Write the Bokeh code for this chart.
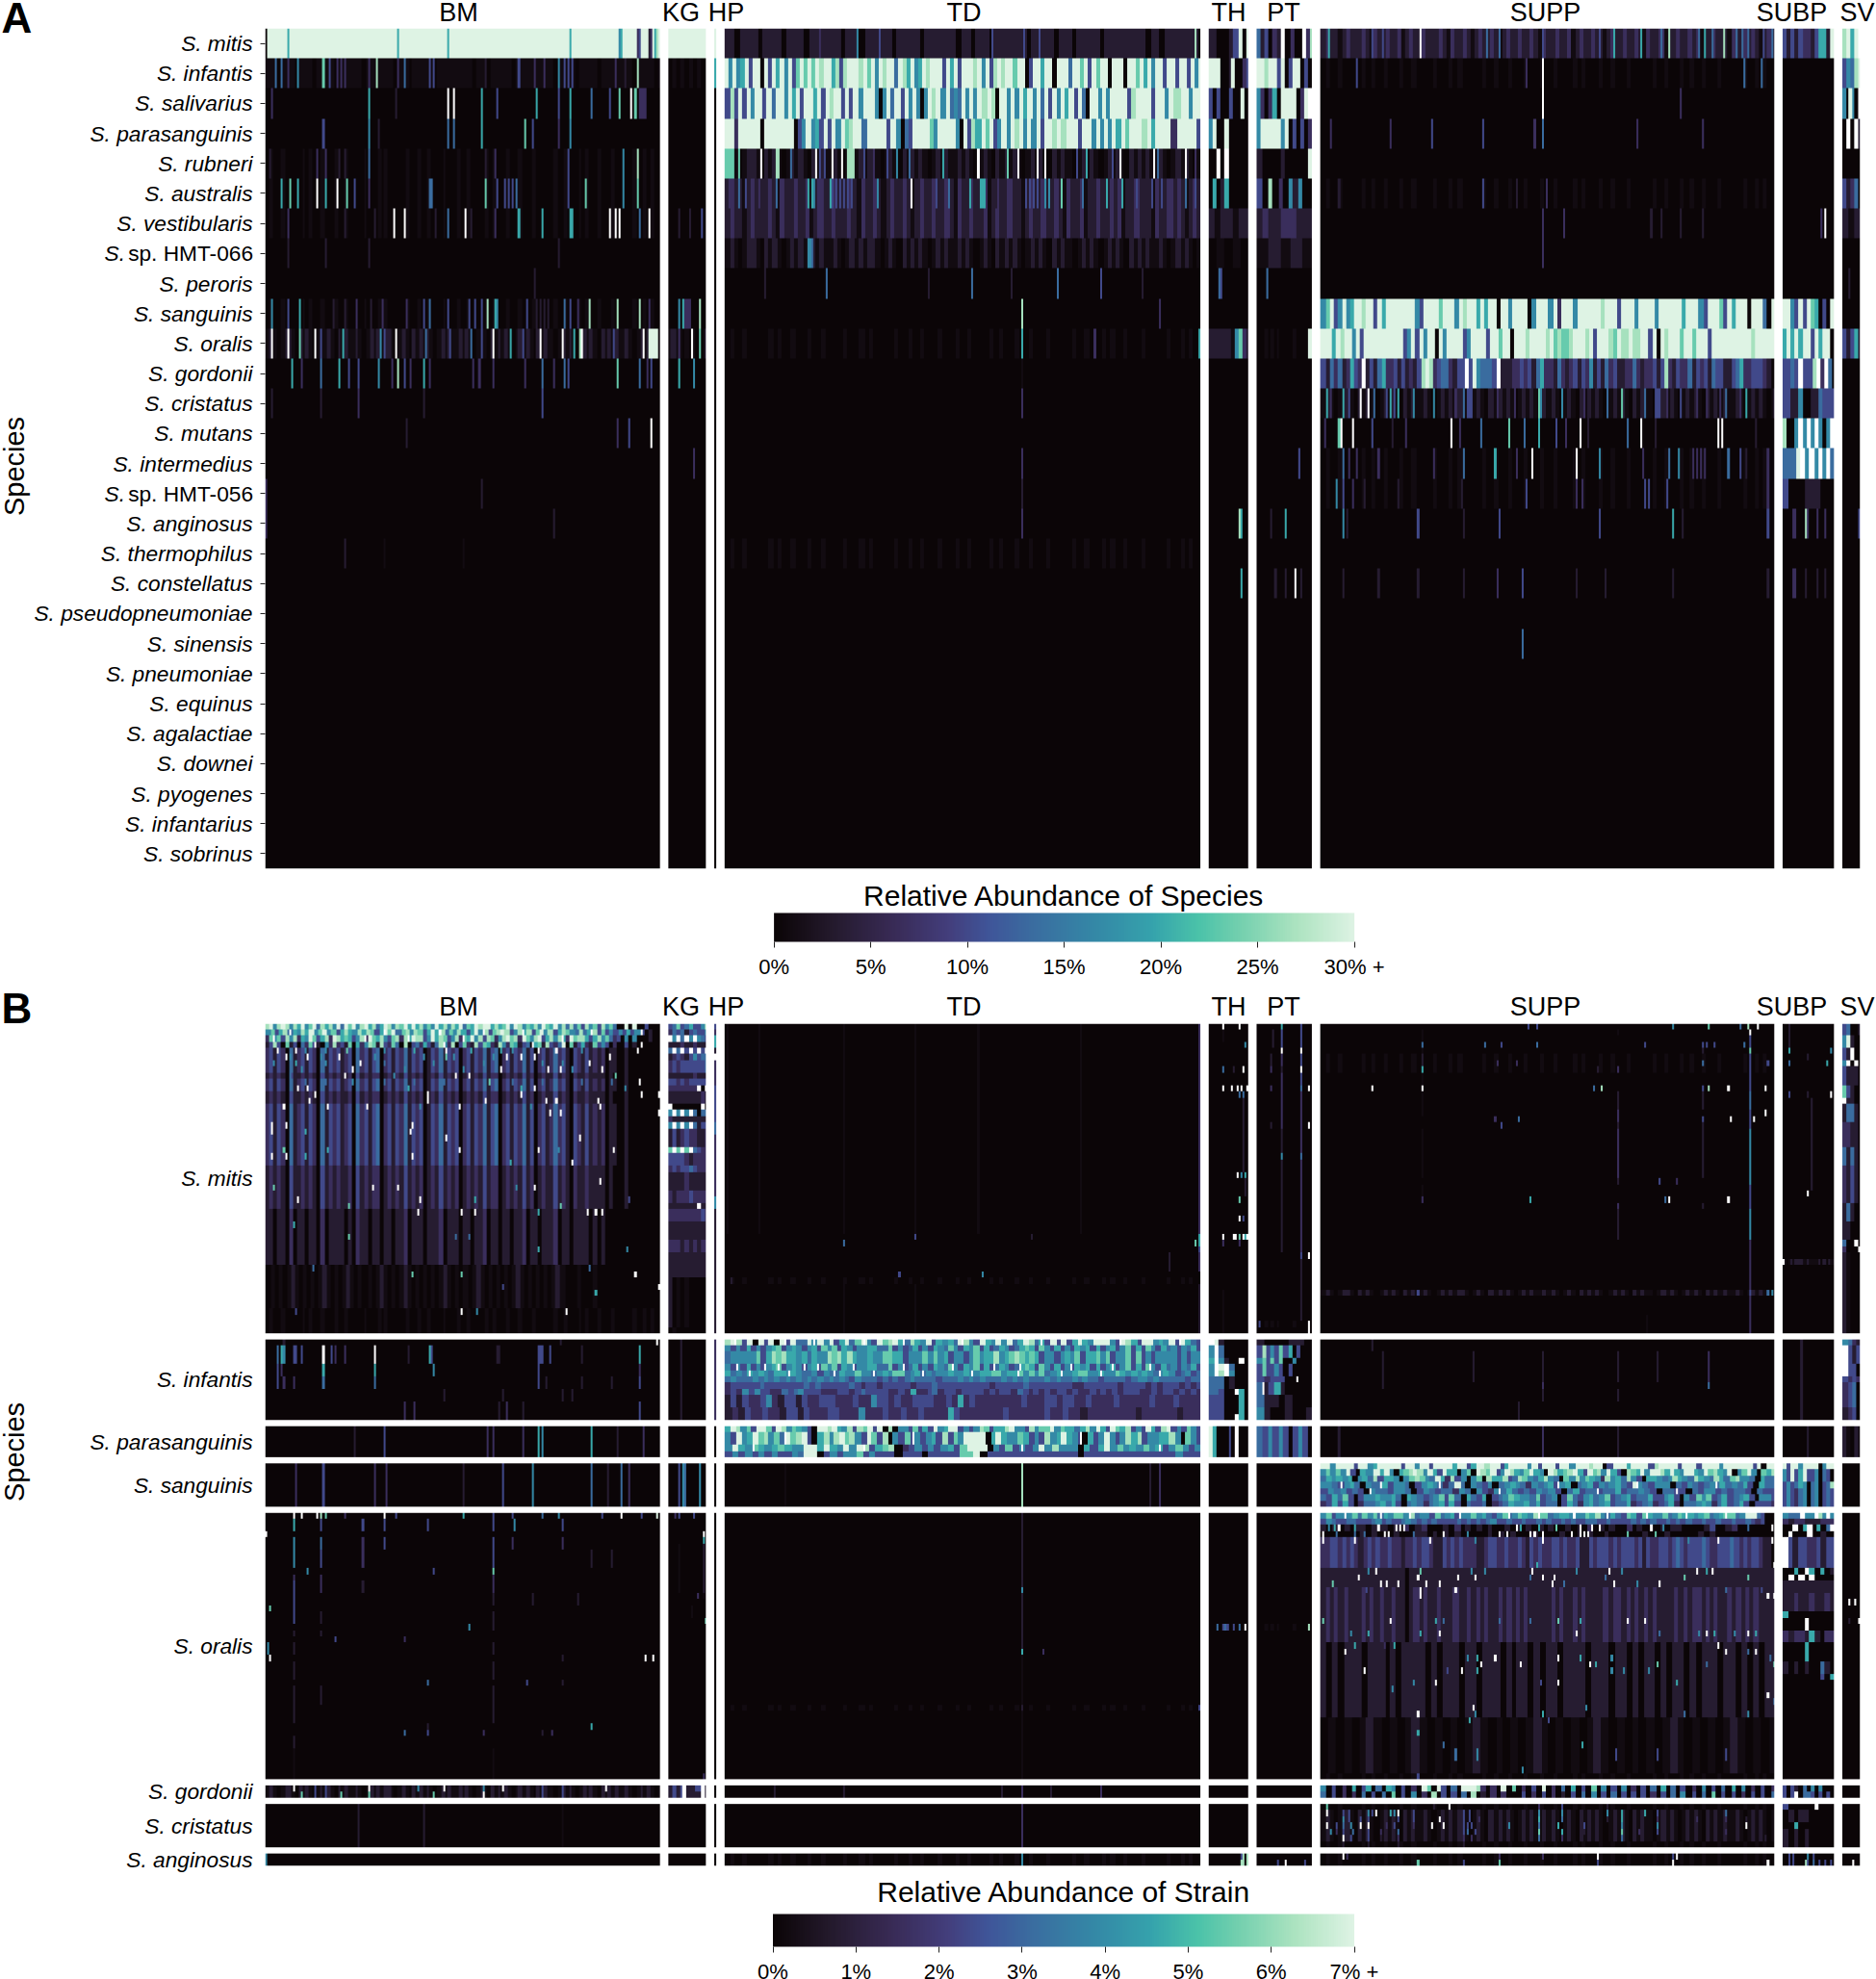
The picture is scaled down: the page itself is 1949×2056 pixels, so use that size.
import numpy as np
from bokeh.plotting import figure
from bokeh.layouts import column
from bokeh.models import LinearColorMapper, ColorBar, FixedTicker, Range1d
from bokeh.core.properties import value
from bokeh.embed import file_html
from bokeh.resources import INLINE

SITES = ["BM", "KG", "HP", "TD", "TH", "PT", "SUPP", "SUBP", "SV"]
SAMPLES = [200, 19, 1, 241, 20, 28, 230, 26, 9]
SITE_LABEL_PX = [476, 707, 754, 1001, 1276, 1333, 1605, 1861, 1929]

SPECIES_A = ["S. mitis", "S. infantis", "S. salivarius", "S. parasanguinis", "S. rubneri", "S. australis",
             "S. vestibularis", "S. sp. HMT-066", "S. peroris", "S. sanguinis", "S. oralis", "S. gordonii",
             "S. cristatus", "S. mutans", "S. intermedius", "S. sp. HMT-056", "S. anginosus", "S. thermophilus",
             "S. constellatus", "S. pseudopneumoniae", "S. sinensis", "S. pneumoniae", "S. equinus",
             "S. agalactiae", "S. downei", "S. pyogenes", "S. infantarius", "S. sobrinus"]
SPECIES_B = ["S. mitis", "S. infantis", "S. parasanguinis", "S. sanguinis", "S. oralis", "S. gordonii",
             "S. cristatus", "S. anginosus"]
ROWS_B = [50, 13, 5, 7, 43, 2, 7, 2]

# Levels: 0-9 along the colour scale, a = faint, w = white (off the scale).
# "pattern|sample:level ..." : pattern is stretched over the site, then single samples are set.
F0 = "0a00a00000a0a00a000a00a0000a000a0a00000a00a00a000a000a00a0000a0a000a00a000a00000a00a000a0a00a000a00000a00a0a00"
F1 = "a1a0a11a01a1a0a1a1a01a1aa1a0a1a1a11a0a1a01a1a1a0a1a1aa1a1a0a1a01a1a1a0a1a1a01a1aa0a1a1a0a1a1a01a1a1aa1a0a1a1a0a"
F2 = "1211a1211121a2112112a1211211121a21121a121121a121121121a2112112a1211211a121121121a2112a11211212a112111a2112121a121"

A_DATA = [
 dict(BM="9|0:0 11:6 67:6 92:6 154:6 179:5 180:6 188:2 189:3 194:1 195:2 197:6 198:8", KG="9", HP="9",
      TD="1101111011110111101111111011101111110111110111111101101110111111101111101110111110111111111011011111111|48:2 67:5 78:3 135:3 151:3 159:3 238:8 240:0",
      TH="110000133909", PT="413021w00200w28",
      SUPP=F2 + "|4:6 26:3 31:3 50:w 84:4 90:4 112:3 141:3 148:6 162:6 172:4 176:8 191:4 194:6 198:4 204:8 210:4 213:4 216:4 224:3 228:4",
      SUBP="3131322136619", SV="8969w"),
 dict(BM=F1.replace("1", "a") + "|5:4 8:4 11:2 16:5 29:7 32:3 36:2 38:2 40:2 52:2 56:8 67:2 70:4 83:3 85:3 111:1 128:3 136:2 141:2 148:5 151:3 153:3 155:3 177:2 182:1 188:8",
      KG="0a0a0a0a00", HP="6",
      TD="9595693990939695937979798996838999897959899498695698999396939998959389899799039969909994997939799099909979695993993993959",
      TH="99900190023", PT="99899390399030",
      SUPP=F0 + "|18:3 104:2 112:w 214:4 223:4", SUBP="0", SV="35489"),
 dict(BM="0|3:2 52:6 66:1 92:w 95:w 109:6 117:3 137:6 148:3 154:6 165:4 174:3 179:7 185:w 187:7 189:2 190:2 191:2 192:2",
      KG="0", HP="0",
      TD="3839395993949959693996939899393959995059493959505989594549595989809959596959493959693940995959999389999399598899599",
      TH="3030030090", PT="5202609999029w",
      SUPP="0|112:w 182:2", SUBP="0", SV="50950w"),
 dict(BM="0|29:3 52:5 57:1 92:4 95:4 109:6 131:7 135:3 148:2 154:5", KG="0", HP="0",
      TD="9929999909999999035956393959789949999939504399997599995093869793595989595939989899939959595969799989699992999993",
      TH="5900900000", PT="59999959030302",
      SUPP="0|5:2 35:2 56:3 82:3 108:2 112:4 160:2 193:2", SUBP="0", SV="0w0w1"),
 dict(BM=F0 + "|2:1 26:2 30:2 37:1 40:1 52:4 111:1 116:2 153:3 181:5 188:8", KG="0", HP="0",
      TD=F1 + "|0:7 1:7 2:7 3:7 4:7 7:7 18:w 26:8 27:8 33:4 46:w 48:3 50:3 54:w 59:w 62:8 63:8 64:8 65:8 70:3 75:2 82:3 87:5 93:4 110:6 128:w 143:7 148:w 158:w 162:w 178:3 183:6 196:3 200:w 217:w 219:4 233:w 238:2",
      TH="00w0w00000", PT="100001000009",
      SUPP="0", SUBP="0", SV="0"),
 dict(BM=F0 + "|8:6 12:7 16:6 26:w 30:6 36:w 41:7 45:3 52:2 83:4 84:4 111:7 117:3 121:3 123:3 125:3 127:4 153:3 162:7 181:5 188:7",
      KG="0", HP="0",
      TD=F2 + "|2:2 7:4 10:3 17:2 26:4 42:6 44:6 45:5 53:6 54:3 56:3 58:3 60:3 62:3 64:3 77:5 94:w 107:3 113:4 124:6 129:6 130:6 131:6 137:1 152:3 154:3 156:3 158:3 162:5 164:5 170:7 181:4 193:6 201:6 208:3 216:3 221:3 233:4 238:3",
      TH="0601600000", PT="30802051500",
      SUPP=F0 + "|9:1 82:3 99:1 114:2", SUBP="0", SV="31240"),
 dict(BM=F0 + "|11:2 40:1 55:1 65:w 70:w 86:1 92:4 101:w 104:1 116:2 128:6 140:6 154:6 155:6 174:w 177:w 179:w 189:4 194:w",
      KG="0|5:1 10:1 16:3", HP="0",
      TD=F2,
      TH="1a11a11", PT="1211222111", SUPP="0|112:2 123:2 167:1 172:1 182:1 193:1", SUBP="0|19:2 21:w", SV="1a1"),
 dict(BM="0|11:1 30:1 52:1 148:1", KG="0", HP="0",
      TD=F1 + "|42:5 43:5 44:4", TH="0a0a0", PT="a1a1a", SUPP="0|112:2", SUBP="0", SV="0"),
 dict(BM="0|136:1", KG="0", HP="0", TD="0|20:1 51:4 103:1 125:4 145:1 168:4 190:3 211:1", TH="0|5:4 6:3", PT="0|5:4",
      SUPP="0", SUBP="0", SV="0|3:1"),
 dict(BM=F0 + "|3:5 11:3 17:6 34:1 40:1 46:2 53:1 59:2 71:2 80:3 83:4 92:3 103:3 106:3 109:3 112:8 116:6 117:5 132:3 137:1 139:1 141:1 143:1 151:4 154:3 158:2 164:8 178:8 189:8 194:2",
      KG="0|5:5 7:6 8:2 9:2 10:2 15:8", HP="0", TD="0|150:8 220:2", TH="0", PT="0",
      SUPP="5793595699899396999999953999979995989969699099599990599959299959999998999399959999599999969995399973969990999409",
      SUBP="9953939760309", SV="0"),
 dict(BM=F1 + "|3:w 11:w 17:7 25:w 28:3 39:6 58:5 60:3 66:w 81:4 93:3 104:4 109:3 115:w 124:6 130:3 139:w 150:w 156:6 159:8 160:w 176:3 191:w 194:9 195:9 196:9 197:9 198:9",
      KG=F1 + "|5:2 11:w 15:7", HP="0", TD=F0 + "|150:6 187:2 240:6", TH="111111a5721", PT=F0 + "|26:9 27:9",
      SUPP="9996989959399999999993593959909599993599993997990999899998978778999893999879889889939098999799799939999999999899999",
      SUBP="6969699396990", SV="31361"),
 dict(BM="0|13:6 18:2 28:4 37:6 42:3 47:3 57:5 64:2 67:8 70:3 73:2 80:6 83:2 105:2 108:2 115:2 131:2 140:4 146:2 151:4 153:3 178:7 189:4 193:2 195:3",
      KG="0|5:6 12:5", HP="0", TD="0|150:a", TH="0", PT="0",
      SUPP="3142412632w1314622313121389823442133w3954443w111223231462214212313251314231122421223138213224132314331134622333210",
      SUBP="3343w3338w2w40", SV="0"),
 dict(BM="0|3:1 28:1 47:2 80:1 140:3", KG="0", HP="0", TD="0|150:2", TH="0", PT="0",
      SUPP=F1 + "|3:6 5:2 11:6 14:3 20:w 24:w 27:4 33:3 35:6 37:3 39:6 47:5 57:5 68:2 72:4 74:3 75:3 76:3 89:2 98:2 110:7 111:5 122:5 133:2 145:4 152:7 164:4 169:3 170:3 171:3 175:2 182:3 190:2 195:2 202:2 205:4 212:2 215:6 229:1",
      SUBP="3311500114333", SV="0"),
 dict(BM="0|71:1 178:2 184:3 195:w", KG="0", HP="0", TD="0", TH="0", PT="0",
      SUPP="0|2:2 9:7 10:w 16:w 26:3 36:1 43:2 66:w 70:2 81:4 95:7 103:4 110:6 119:3 124:2 131:w 135:1 155:4 162:w 169:1 201:w 203:w 220:1",
      SUBP="8005w5w5w505w", SV="0"),
 dict(BM="0", KG="0|12:2", HP="0", TD="0|150:2", TH="0", PT="0|21:3",
      SUPP=F0 + "|11:4 14:2 18:2 29:2 57:2 72:4 88:6 99:2 107:w 129:w 141:5 163:2 176:4 181:5 188:2 190:2 192:2 194:2 206:4 212:3 215:1 226:2",
      SUBP="4449w5w5w5w4", SV="0"),
 dict(BM="0|0:2 109:1", KG="0", HP="0", TD="0|150:1", TH="0", PT="0",
      SUPP=F0 + "|8:5 11:3 16:2 22:1 39:1 71:1 104:3 129:2 132:2 164:3 166:3 175:3 226:2", SUBP="3000111000", SV="0"),
 dict(BM="0|0:2 146:1", KG="0", HP="0", TD="0|150:2", TH="0|15:8 16:6", PT="0|14:6 7:1",
      SUPP="0|11:5 13:1 49:3 72:1 90:3 141:3 178:6 183:1 226:3", SUBP="0|5:2 6:2 11:8 12:2 17:2 21:2", SV="0|8:3"),
 dict(BM="0|40:1 60:a 100:a", KG="0", HP="0", TD=F0, TH="0", PT="0", SUPP="0", SUBP="0", SV="0"),
 dict(BM="0", KG="0", HP="0", TD="0", TH="0|16:6", PT="0|9:1 14:1 19:w 22:1",
      SUPP="0|11:1 29:1 49:1 72:1 89:2 102:3 129:1 144:1 178:1 226:1 231:1", SUBP="0|5:2 6:2 11:1 17:1 21:1", SV="0"),
 dict(BM="0", KG="0", HP="0", TD="0", TH="0", PT="0", SUPP="0", SUBP="0", SV="0"),
 dict(BM="0", KG="0", HP="0", TD="0", TH="0", PT="0", SUPP="0|102:4", SUBP="0", SV="0"),
]
mA = dict(BM="0", KG="0", HP="0", TD="0", TH="0", PT="0", SUPP="0", SUBP="0", SV="0")

# ---- Panel B: each block gives, per site, [(rows, pattern), ...] or one pattern for all rows ----
MU = "2313204123132041323123042313402313241323013241323023132413402313241302312423103213121201100100000000"
MM = "1212103112121031212112031212201212131212012131212012121312201212131201211312102112111101000100000000"
ML = "1101102011011020111101021101101101120111011120111011011201101101120110111201101111010100000000000000"
MB = "0a0a0a1a0a0a0a1a0a0a1a0a0a0a1a0a0a1a0a0a0a0a1a0a0a0a1a0a0a0a0a1a0a0a0a0a1a000a000a0000000000000000"
B_MITIS = dict(
 BM=[
 (1,"8958985869579486859497958968469858796968575968586947698996867959857685976958484738573857400909003000"),
 (1,"5736846586957957368658687369794785873696847586369583789835868379583687548468373535363530100|12:w 60:w 88:w 110:w 130:w 165:w 190:w"),
 (1,"2757385826597368298676358297685378286988359687358276958387258978297589368586297886368574230505000100|4:w 50:w 72:w 100:w 150:w"),
 (1,"1383071304273105282317062587183274080342631485280372183762185276134067183249071362173530200301000000|25:w 90:w 135:w 190:w"),
 (1,MU + "|6:w 15:w 41:7 91:w 104:6 119:6 138:w 147:w 188:w 20:5 30:5 60:5 75:6 125:5 160:5"),
 (1,MU + "|10:w 21:w 37:w 91:7 122:w 129:w 136:w 174:w 12:5 28:5 55:5 80:5 95:5 115:5"),
 (1,MU + "|4:5 15:6 48:w 164:w 30:5 60:4 85:5 110:5 140:5 150:5"),
 (1,MU + "|44:w 119:w 143:w 149:w 170:w 18:5 70:5 100:5 155:5"),
 (1,MM + "|40:w 96:w 103:w 177:7 12:4 65:5"),
 (1,MU + "|44:5 113:7 189:w 20:4 30:4 60:4 75:4 90:4 125:4 140:4 160:4 175:4"),
 (1,MU + "|16:w 21:w 72:6 129:6 136:w 182:5"),
 (1,MM + "|25:w 82:w 129:w 190:w 199:w"),
 (1,MM + "|22:w 82:w 111:w 142:w 147:w 168:w"),
 (1,MU + "|9:w 31:w 51:w 78:5 98:w 134:5 169:w"),
 (1,MU + "|144:w 149:w 199:w"),
 (1,MU),
 (1,MU + "|3:w 10:w 74:w"),
 (1,MU + "|3:w 20:6 73:w"),
 (1,MU + "|91:w 159:w"),
 (1,MU),
 (1,MU + "|9:7 31:6 98:w 138:w 148:5 176:w"),
 (1,MU + "|3:w 10:w 20:6 74:w"),
 (1,MU + "|155:w 124:6"),
 (2,MM),
 (1,MM + "|169:w"),
 (1,MM + "|4:7 54:w 67:w 127:5 136:w"),
 (1,MM),
 (1,MM + "|16:w 78:w 106:6 184:3"),
 (1,MM + "|42:7 149:7"),
 (1,ML + "|77:w 99:w 106:w 138:6 163:w 167:w 170:w"),
 (1,ML),
 (1,ML + "|14:6"),
 (1,ML),
 (1,ML + "|42:7 96:4 103:4"),
 (1,ML),
 (1,ML + "|138:6 183:5"),
 (2,ML),
 (1,MB + "|24:4 164:4"),
 (1,MB + "|74:7 99:7 187:w"),
 (1,MB),
 (1,MB + "|120:3 199:w"),
 (1,MB + "|167:6"),
 (2,MB),
 (1,F0 + "|99:w 107:5 152:w 15:3"),
 (3,F0),
 ],
 KG=[(1,"3473463358"),(1,"2434134335"),(1,"w5w4w5w543"),(1,"1112112111"),(1,"4w4w3w3w3w"),(1,"1232135344"),(2,"2323333334"),(1,"1111112111"),
     (1,"3323233333"),(1,"2222222w0w"),(2,"1111111121"),(1,"w0000000w0"),(1,"5w5w5w4044"),(1,"2111111111"),(1,"5w5w5w4133"),(3,"1312322112"),
     (1,"7w7w7w4322"),(2,"3333212222"),(1,"2323343222"),(3,"1111211111"),(2,"2122232222"),(1,"1111111w11"),(2,"2222222232"),(3,"1111111111"),
     (2,"2221212122"),(4,"1111111111"),(8,"10a0a00000"),(5,"0a00000000")],
 HP=[(1,"3"),(1,"2"),(2,"6"),(1,"1"),(1,"w"),(4,"2"),(6,"3"),(2,"4"),(10,"2"),(2,"5"),(21,"1")],
 TD=[(34,"0|1:a 17:a 60:a 96:a 128:a 180:a 240:2"),(1,"0|96:3 155:1 240:6"),(1,"0|60:4 238:7 240:6"),(1,"0|240:3"),(3,"0|225:1 240:2"),
     (1,"0|88:3 130:5"),(1,F0 + "|3:1"),(8,"0|60:a 96:a 240:1")],
 TH=[(1,"0|7:w 15:w"),(2,"0|7:a"),(1,"0|18:5"),(3,"0"),(1,"0|7:4 12:1 17:w"),(2,"0"),(1,"0|7:w 11:w 14:w 16:w 19:w"),(1,"0|15:4 17:4"),
     (12,"0|17:1"),(1,"0|14:w 16:5 18:6"),(3,"0|18:1"),(1,"0|15:7"),(2,"0"),(1,"0|15:w 17:3"),(2,"0"),(1,"0|7:w 12:w 13:w 15:7 17:w 18:6 19:w"),
     (1,"0|7:2 15:2"),(7,"0"),(8,"0|7:a")],
 PT=[(1,"0|12:6 22:3"),(3,"0|12:3 22:3 8:1"),(1,"0|12:w 22:w"),(2,"0|7:1 12:2 22:3"),(1,"0|22:w 7:2 12:1"),(2,"0|12:2 22:3"),(1,"0|7:2 22:4 12:2 26:w"),(5,"0|12:2 22:2"),
     (1,"0|7:1 12:2 22:2 26:w"),(4,"0|12:1 22:2"),(1,"0|12:5 22:4"),(15,"0|12:1 22:2"),(1,"0|22:3 26:w"),(10,"0|22:1"),(1,F0 + "|1:3 26:w"),(1,"0|26:w"),(1,"0")],
 SUPP=[(1,"0|105:3 109:3 178:5 196:7 212:4 216:8 221:w"),(1,"0|51:a 217:w 150:a"),(1,"0|51:a 217:3"),(1,"0|51:4 83:4 91:3 109:4 164:3 193:3 195:3 199:3 214:4 217:3"),
       (1,"0|51:a 217:7 193:1"),(1,F0 + "|51:1 217:3"),(1,F0 + "|89:2 99:2 193:4 51:1 217:3 226:3"),(1,F0 + "|51:6 217:3 140:1 150:2"),(2,"0|51:a 217:3"),
       (1,"0|26:w 51:w 138:4 142:8 193:3 196:8 206:w 217:3 225:w"),(3,"0|51:a 150:1 193:1 217:4"),(1,"0|51:a 150:2 217:3 225:w"),(1,"0|88:2 100:4 150:2 193:3 207:w 217:3 219:w"),
       (1,"0|91:3 150:1 193:1 217:3"),(8,"0|51:a 150:2 193:1 217:5"),(1,"0|150:1 217:5 171:3 180:2"),(2,"0|51:a 217:3"),(1,"0|51:2 106:6 174:4 176:w 206:w 217:3"),
       (1,"0|150:2 193:1 217:3"),(5,"0|217:5 150:1"),(8,"0|217:2"),(1,F1 + "|49:3 217:3 226:4 228:5 230:5"),(3,"0|217:2"),(4,"0|217:2 165:a"),(1,"0|217:1 225:6")],
 SUBP=[(4,"0|3:1"),(1,"0|3:6 24:5"),(1,"0|12:1"),(1,"0|3:4 22:6"),(4,"0"),(1,"0|3:3 12:1 24:w"),(15,"0|14:1"),(1,"0|12:w"),(10,"0"),(1,F1 + "|0:w"),(11,"0")],
 SV=[(2,"34001"),(2,"59100"),(2,"31w00"),(1,"5w0w0"),(3,"31110"),(2,"73100"),(1,"w1100"),(3,"14410"),(4,"22110"),(3,"41410"),(6,"21310"),(3,"14100"),(3,"11000"),(1,"400w0"),(1,"2000w"),(15,"1a000")],
)
IT = "5353635356735653563757365355664473534635365475365736346534676375363536563635635736375364535463"
IM = "2325353322434533322233234333322326223423323333232332432323233232232323233322323323232"
B_INFANTIS = dict(
 BM=[(1,"0|9:1 149:1 198:w"),(3,"0|6:4 8:6 9:5 14:3 15:3 18:3 29:w 33:3 35:2 40:2 55:w 72:1 83:6 84:3 117:1 118:1 138:3 139:3 140:3 144:3 160:1 189:6"),
     (2,"0|6:3 8:2 29:6 55:6 85:5 138:3 189:2"),(2,"0|6:3 9:2 14:2 29:4 55:4 138:3 142:1 160:1 175:1 189:3"),(2,"0|90:1 120:1 150:1 155:1"),
     (3,"0|70:2 75:2 118:1 122:2 130:1 189:3"),],
 KG="0|6:1", HP="2",
 TD=[(1,"8983909390939449595936947953978964865936564985396595946984639393696599953986399565939643|5:w 30:w 45:w 70:w 90:w 120:w 160:w 200:w 230:w"),
     (1,IT),
     (2,"4555557368786656465587868655655776635557575635535756685678767635535657366757355737353555535355"),
     (1,IT + "|6:w 20:w 27:w 40:w 47:w 65:w 90:w 115:w 136:w 149:w 175:w 196:w 215:w"),
     (1,"6454656546656544535446557554565774564545565565566775667575745655677556557656565456534534|12:w 32:w 55:w 75:w 100:w 125:w 148:w 170:w 190:w 220:w"),
     (1,"4544454545454545454545435444343434544443444545454445454544454544545443444434554544444344"),
     (1,"2333334333333343433333432332333332333433333333323333343333333322333333233332323332323"),
     (1,IM),
     (2,"1313223521331322333222322533232233332232623222222223222332332232222322222322232222"),
     (2,"1213223221331322233222522232232232222632222222322222232232212222222212222221222"),
     (1,"1212223211221222232222322242221222262222222222222122221222122121121111"),],
 TH=[(1,"w9100000"),(2,"5w400000"),(1,"6w5100w0"),(1,"5w9w4000"),(1,"5w8w5000"),(2,"44401000"),(1,"44300w60"),(3,"33300060"),(1,"33300w60")],
 PT=[(1,"1000110"),(2,"3835373603000"),(1,"5737370050000"),(2,"3733530300000"),(1,"32330000|20:w"),(2,"4136100000|3:w"),(2,"41101000"),(2,"51001001"),(2,"31000100|2:w")],
 SUPP=[(2,"0|26:1"),(5,"0|31:1 77:1 112:1 150:1 170:1 196:2"),(1,"0|31:1 112:2 196:4"),(2,"0|112:1 150:1"),(3,"0|100:1")],
 SUBP="0|9:1", SV=[(1,"5421"),(3,"w313"),(2,"w330"),(1,"3232"),(4,"2340"),(2,"1230")],
)
B_PARAS = dict(
 BM="0|45:1 60:3 115:2 112:2 130:2 138:6 140:5 165:6 178:1 191:2 215:1",
 KG="0", HP="0",
 TD=[(1,"6985739973985765309989658387939080553736395699353587366895538577957664685963976835396389353753"),
     (2,"5395697857497893068589785397380537353563837599990696557635385696530635953586835566850753|30:w 95:w 180:w"),
     (1,"5965765676559969659598367802353535637999053735359585550636957565756357535|14:w 70:w 150:w 220:w"),
     (1,"3535353533549903535573533303330333337790333333333333330333333333333335333")],
 TH="9600030w000", PT="43535303530",
 SUPP="0|9:1 112:2 150:1", SUBP="0|12:1", SV="1a01a",
)
B_SANG = dict(
 BM="0|15:2 29:3 55:2 61:2 100:1 120:3 135:5 165:4 173:1 180:4 184:2 207:1 222:4",
 KG="0|5:3 7:5 8:4 15:5", HP="0",
 TD="0|30:a 150:8 220:2 215:1", TH="0", PT="0",
 SUPP=[(1,"9959999399569999939959939999699369989936999959399939959998990399969999389999399939999599999939099"),
       (1,"5757593065596950678985963966057098793598657965098678963978596308769599869659965978659057950768"),
       (1,"4656560564836650578754962835057086683487546854075857652856485306654586548654864785540644"),
       (1,"5543564054463554035654249405435045654254563560456354564395435550435434546454630644|10:w 30:w 60:w 120:w 160:w 200:w"),
       (1,"3545343054435540354344254053254643435453046344344634454304433043553434430433|25:w 90:w 140:w 180:w"),
       (1,"4364730355655640654345737406436034576554734503743564573456344633563053757346345630553"),
       (1,"2363630244564630454245636304334023465564634403642564563446234523462044565246346303332")],
 SUBP=[(1,"9399599990599"),(2,"5393693350430"),(1,"3534650450348"),(3,"3532450450343")], SV="0",
)
OU = "2233232321232322322122323321132323222112332232232132322332322311323332323332313223323432333432233343232332110"
OM = "1212121112121211211012121121112112121211212121211111212112121111212212121212111121212212121121212121111"
OL = "1010111011101011110101110110111010110101101111011101101011010110101110110101011"
OB = "0a0a0a1a0a0a1a0a0a0a1a0a0a0a1a0a0a0a1a0a0a0a0a1a0a0a0a1a0a0a"
B_ORALIS = dict(
 BM=[(1,"0|14:w 18:w 26:w 28:8 30:7 40:2 60:w 66:3 100:6 115:3 125:3 140:4 148:5 170:3 180:w 190:3 198:9"),
     (2,"0|14:6 28:3 49:3 60:3 82:3 115:3 126:5 150:3"),(1,"0|0:w"),(2,"0|14:5 28:4 49:2 60:3 115:3 125:2 150:2"),
     (3,"0|14:5 28:3 49:2 115:3 165:1 175:1"),(1,"0|21:5 115:7 85:3"),(1,"0|14:2 28:2 115:2"),(2,"0|14:3 28:2 49:1 115:2"),
     (2,"0|14:3 115:1 135:1 158:1"),(1,"0|2:7 14:3"),(2,"0|14:3 28:1 115:1"),(1,"0|103:5 115:1"),(1,"0|14:1 28:1"),(1,"0|35:3 70:2"),
     (2,"0|1:5 14:1 115:1"),(1,"0|2:w 150:1 192:w 196:w"),(3,"0|14:1 115:1"),(1,"0|82:4 132:3 150:1"),(3,"0|14:1 28:1 115:1"),(3,"0|14:1 115:1"),
     (1,"0|165:6 82:1"),(1,"0|70:4 82:3 110:2 140:1 145:2"),(2,"0|14:1"),(7,"0|14:a 115:a")],
 KG=[(1,"0|3:2 5:3 12:3"),(2,"0"),(1,"0|17:w"),(1,"0|17:6"),(8,"0|5:a 17:1"),(1,"0|14:2 17:a"),(1,"0"),(2,"0|11:a"),(1,"0|18:7"),(24,"0"),(1,"0|17:2")],
 HP="0",
 TD=[(12,"0|150:1"),(1,"0|150:5"),(9,"0|150:1"),(1,"0|150:6 161:2"),(8,"0|150:a"),(1,F0 + "|150:1 240:3"),(11,"0|150:a")],
 TH=[(18,"0"),(1,"0|4:4 7:3 8:4 9:3 12:3 15:4 18:w"),(24,"0")], PT=[(18,"0"),(1,F0 + "|26:8"),(24,"0")],
 SUPP=[
 (1,"5735557475746577584553745635575643574576587745665557685464376376557457665674567745994300|12:w 30:w 45:w 70:w 95:w 110:w 128:w 145:w 165:w 185:w 205:w 216:9 219:9 220:9"),
 (1,"3543344333453433454343433334343434533433433434334343344334333343434334343433433433433432300"),
 (1,"1010101101110102012000102010101001010101010010102010100201000101100001300120000000|4:5 7:6 9:w 17:6 29:w 38:w 40:w 42:w 99:w 101:6 110:6 119:7 131:w 137:w 141:w 167:w 173:5 216:4 228:w"),
 (1,"0000000101000100011010101000001010100010000100101001000000100010000010100000000000|1:w 8:4 17:4 22:4 32:w 34:w 47:4 62:w 74:5 90:w 94:w 106:w 108:w 112:w 127:w 131:w 133:w 135:w 155:7 169:7"),
 (1,OU + "|1:w 17:w 55:w 78:5 112:w 186:5 201:w 228:w"),
 (3,OU),
 (1,OU + "|109:6 229:w"),
 (1,OM.replace("2","1") + "|24:5 28:w 50:7 76:5 83:5 107:w 129:5 146:w 152:5 190:w 195:6 198:w"),
 (1,OM.replace("2","1") + "|19:w 49:w 69:w 78:w 106:4 112:w 118:w 144:4 184:7 216:7"),
 (1,OM.replace("2","1") + "|6:7 30:w 33:w 39:w 53:w 60:w 117:w 123:4 148:w 160:5 171:w"),
 (1,OM + "|23:3 50:w 68:w 205:4 223:3"),
 (1,OM + "|50:w 226:w 229:w 231:w"),
 (3,OM),
 (1,OM + "|1:7 35:w 58:6 62:4 90:4 106:4 120:7 131:6 155:w 164:w"),
 (1,OM),
 (1,OM + "|15:5 24:6 50:6 60:w 129:w 171:4 191:5 195:w 199:6 209:5 216:w 220:6"),
 (1,OM),
 (1,OL + "|17:6 37:6 32:2 201:w"),
 (1,OL + "|12:w 205:w 220:w 216:4"),
 (1,OL + "|74:5 79:6 88:w 120:w 131:6 147:5 227:4"),
 (1,OL + "|81:w 101:w 136:w 139:6 170:7 195:4 229:7"),
 (1,OL + "|22:w 64:3 71:w 79:6 147:5 153:5 166:5"),
 (1,OL),
 (1,OL + "|47:5 58:w 120:w 180:6 111:3"),
 (1,OL + "|36:5"),
 (1,OL + "|226:w"),
 (1,OL + "|229:4"),
 (1,OL + "|77:w 134:5"),
 (1,OL + "|49:w 78:5 112:6 184:4 216:5"),
 (1,OB + "|75:6 115:3"),
 (1,OB),
 (1,OB + "|49:6"),
 (1,OB),
 (1,OB + "|62:4 132:6"),
 (2,OB + "|68:4 79:5 149:3 170:3 205:3"),
 (1,OB),
 (1,OB + "|102:5"),
 (1,F0 + "|49:3"),
 (1,F0),
 ],
 SUBP=[(1,"5444w55w85w5"),(1,"2122111222"),(1,"00w06w0604w"),(1,"0w000w00100"),(5,"w3133223133"),(1,"0060w60601"),(1,"0w0w0w0000"),(2,"1111111111"),
       (3,"1121121121"),(1,"6000000000"),(1,"0000w00000"),(1,"0000w00000"),(2,"2122161022"),(3,"0000600000"),(2,"1010100410"),(1,"0000000306"),(16,"0")],
 SV=[(14,"0"),(1,"0|3:w 6:w"),(2,"0"),(1,"0|3:1 8:w"),(25,"0")],
)
B_GORD = dict(
 BM=[(1,F1 + "|14:w 25:3 30:3 52:w 77:5 90:w 110:5 120:w 140:3 150:3 172:w"),(1,F1 + "|18:7 38:7 52:7 85:7 110:w 25:3 30:3 140:3 150:3")],
 KG=[(1,"1313w1133w1"),(1,"1313w1111w1")], HP="0",
 TD="0|25:1 60:1 140:1 150:2 165:1 190:2", TH="0", PT="0",
 SUPP=[(1,"5030206036040650302097093040999820209070203090204060307050305020304060403020503040605020302"),
       (1,"4030202040304070305020803030408010202000302030201030405030403030302030405030407030302030304"),],
 SUBP=[(1,"3031040505000"),(1,"303w044303030")], SV="0",
)
B_CRIST = dict(
 BM="0|47:1 80:1 150:a", KG="0", HP="0", TD="0|150:2", TH="0", PT="0",
 SUPP=[(1,F0 + "|3:7 65:w 57:1 110:2 122:3 145:1"),
       (1,F1 + "|3:w 11:3 14:3 24:5 26:3 28:w 35:6 37:5 39:w 47:3 72:3 75:3 110:5 122:5 145:5 152:6 164:6 170:3 205:4"),
       (1,F1 + "|11:5 14:3 20:3 24:3 39:3 47:3 60:w 72:3 75:3 80:2 110:6 122:4 145:1 152:6 170:2 190:2 205:2 215:1"),
       (1,F1 + "|3:w 8:3 11:4 15:5 20:w 24:w 33:2 37:3 47:2 56:w 62:w 72:3 74:3 76:3 95:5 110:4 120:6 133:3 152:5 170:5 215:w"),
       (1,F1 + "|5:5 8:2 11:3 16:4 24:3 30:2 39:4 47:1 72:3 74:4 78:3 110:7 122:6 133:1 152:7 161:2 170:3 205:2"),
       (1,F1 + "|11:w 15:3 24:3 30:1 39:2 72:2 76:2 110:4 122:2 152:4 205:1 225:1"),
       (1,F0 + "|11:1 24:1 39:1 72:1")],
 SUBP=[(1,"3000000w0000"),(2,"0101100000"),(1,"0060000000"),(3,"1010100000")], SV="0",
)
B_ANG = dict(
 BM="0|0:5", KG="0", HP="0", TD=F0 + "|150:5", TH=[(1,"0|16:3 17:8 19:8"),(1,"0|16:8 17:8 19:8")], PT=[(1,"0"),(1,"0|10:3 14:w 24:3")],
 SUPP=[(1,F0 + "|11:w 13:2 112:2 180:w 178:3 140:w 90:2"),(1,F0 + "|49:7 72:3 90:7 140:3 178:w 226:w")],
 SUBP=[(1,"0|3:3 5:3 12:5 15:3"),(1,"0|3:3 5:3 11:8 12:3 15:4 18:3 21:3 24:3")], SV=[(1,"0"),(1,"0|5:w")],
)
B_DATA = [B_MITIS, B_INFANTIS, B_PARAS, B_SANG, B_ORALIS, B_GORD, B_CRIST, B_ANG]

TICKS_A = [0, 5, 10, 15, 20, 25, 30]
TICK_LABELS_A = ["0%", "5%", "10%", "15%", "20%", "25%", "30% +"]
TICKS_B = [0, 1, 2, 3, 4, 5, 6, 7]
TICK_LABELS_B = ["0%", "1%", "2%", "3%", "4%", "5%", "6%", "7% +"]

ANCH_POS = [0, .1, .2, .3, .37, .45, .55, .65, .73, .8, .9, 1]
ANCH_COL = ["#0b0507", "#241a2d", "#382a54", "#433e7c", "#3f5599", "#3a6ea0", "#3487a6", "#35a2ac", "#4ac2a9", "#72cfae", "#ace3c0", "#def3e4"]

def palette():
    rgb = np.array([[int(c[i:i + 2], 16) for i in (1, 3, 5)] for c in ANCH_COL], float)
    t = np.linspace(0, 1, 256)
    return ["#%02x%02x%02x" % tuple(int(round(np.interp(v, ANCH_POS, rgb[:, k]))) for k in range(3)) for v in t]
PAL = palette()

def lev(ch, top):
    if ch == "w":
        return top * 2.0
    if ch == "a":
        return top * 0.03
    return int(ch) / 9 * top

def expand(spec, n, top):
    base, _, st = spec.partition("|")
    idx = (np.arange(n) * len(base) / n).astype(int)
    arr = np.array([lev(base[i], top) for i in idx])
    for tok in st.split():
        s, l = tok.split(":")
        if int(s) < n:
            arr[int(s)] = lev(l, top)
    return arr

GAP = 4.25
STARTS, pos = [], 0.0
for n in SAMPLES:
    STARTS.append(pos)
    pos += n + GAP
TOTAL = pos - GAP
LEFT, RIGHT = 275, 1932
PPX = (RIGHT - LEFT) / TOTAL
def xd(px):
    return (px - LEFT) / PPX

FONT = "Liberation Sans"
def make_fig(h, top_b, frame_h, y1):
    p = figure(width=1949, height=h, output_backend="svg", toolbar_location=None,
               x_range=Range1d(0, TOTAL), y_range=Range1d(0, y1), min_border_left=LEFT,
               min_border_right=1949 - RIGHT, min_border_top=top_b, min_border_bottom=h - top_b - frame_h,
               outline_line_color=None, background_fill_color="white")
    p.grid.visible = False
    p.xaxis.visible = False
    ax = p.yaxis[0]
    ax.axis_line_color = None
    ax.minor_tick_line_color = None
    ax.major_tick_out = 5
    ax.major_tick_in = 0
    ax.major_tick_line_color = "#222222"
    ax.major_tick_line_width = 1
    ax.major_label_standoff = 8
    ax.major_label_text_font = FONT
    ax.major_label_text_font_style = "italic"
    ax.major_label_text_font_size = "22.7px"
    ax.major_label_text_color = "black"
    return p

def add_text(p, px, y, text, size, style="normal", angle=0, align="center", base="middle"):
    p.text(x=[xd(px)], y=[y], text=[text], text_font=value(FONT), text_font_size=value(size),
           text_font_style=style, text_align=align, text_baseline=base, text_color="black",
           angle=angle, angle_units="deg", level="overlay")

def add_species_ticks(p, ticks, names):
    p.yaxis[0].ticker = FixedTicker(ticks=ticks)
    p.yaxis[0].major_label_overrides = {t: (" " if " sp. " in nm else nm) for t, nm in zip(ticks, names)}

def add_bar(p, mapper, ticks, labels, x0px, w, h, ypos):
    cb = ColorBar(color_mapper=mapper, orientation="horizontal", width=w, height=h, padding=0, margin=0,
                  location=(x0px - LEFT, ypos), ticker=FixedTicker(ticks=ticks),
                  major_label_overrides=dict(zip(ticks, labels)), major_label_text_font=FONT,
                  major_label_text_font_size="22px", major_label_text_color="black", label_standoff=7,
                  major_tick_in=0, major_tick_out=6, major_tick_line_color="#222222", bar_line_color=None,
                  minor_tick_line_color=None, background_fill_color=None)
    p.add_layout(cb, "center")

# --------- Panel A ---------
A_TOP = 30.0
mapA = LinearColorMapper(palette=PAL, low=0, high=A_TOP, high_color="#ffffff")
NA = len(SPECIES_A)
HA, FH_A = 1016, 873
pA = make_fig(HA, 29, FH_A, NA)
rows_full = A_DATA + [mA] * (NA - len(A_DATA))
for si, (site, n) in enumerate(zip(SITES, SAMPLES)):
    arr = np.vstack([expand(r[site], n, A_TOP) for r in rows_full])
    pA.image(image=[arr[::-1]], x=STARTS[si], y=0, dw=n, dh=NA, color_mapper=mapA)
ticksA = [NA - i - 0.5 for i in range(NA)]
add_species_ticks(pA, ticksA, SPECIES_A)
def ya(pagepx):
    return NA - (pagepx - 29) * NA / FH_A
for lab, px in zip(SITES, SITE_LABEL_PX):
    add_text(pA, px, ya(12), lab, "27px")
for t, nm in zip(ticksA, SPECIES_A):
    if " sp. " in nm:
        add_text(pA, 262.5, t, nm[3:], "22.7px", align="right")
        add_text(pA, 262.5 - 133, t, "S.", "22.7px", style="italic", align="right")
add_text(pA, 1, ya(18), "A", "44px", style="bold", align="left")
add_text(pA, 14, ya(484), "Species", "29px", angle=90)
add_text(pA, 1105, ya(930), "Relative Abundance of Species", "30px")
add_bar(pA, mapA, TICKS_A, TICK_LABELS_A, 803.6, 603, 30, -117)

# --------- Panel B ---------
B_TOP = 7.0
mapB = LinearColorMapper(palette=PAL, low=0, high=B_TOP, high_color="#ffffff")
NB = sum(ROWS_B) + len(ROWS_B) - 1
HB, FH_B = 1040, 875
pB = make_fig(HB, 47, FH_B, NB)
ticksB, r0 = [], 0
for block, nrows in zip(B_DATA, ROWS_B):
    ybot = NB - r0 - nrows
    ticksB.append(ybot + nrows / 2)
    for si, (site, n) in enumerate(zip(SITES, SAMPLES)):
        spec = block[site]
        if isinstance(spec, str):
            spec = [(nrows, spec)]
        lines = []
        for rep, s in spec:
            lines += [expand(s, n, B_TOP)] * rep
        while len(lines) < nrows:
            lines.append(expand("0", n, B_TOP))
        arr = np.vstack(lines[:nrows])
        pB.image(image=[arr[::-1]], x=STARTS[si], y=ybot, dw=n, dh=nrows, color_mapper=mapB)
    r0 += nrows + 1
add_species_ticks(pB, ticksB, SPECIES_B)
pB.yaxis[0].major_tick_line_color = None
def yb(pagepx):
    return NB - (pagepx - 1016 - 47) * NB / FH_B
for lab, px in zip(SITES, SITE_LABEL_PX):
    add_text(pB, px, yb(1045), lab, "27px")
add_text(pB, 1, yb(1047), "B", "44px", style="bold", align="left")
add_text(pB, 14, yb(1508), "Species", "29px", angle=90)
add_text(pB, 1105, yb(1965), "Relative Abundance of Strain", "30px")
add_bar(pB, mapB, TICKS_B, TICK_LABELS_B, 802.5, 604, 34, -125)

page = column(pA, pB, spacing=0)
open("out.html", "w").write(file_html(page, INLINE))
